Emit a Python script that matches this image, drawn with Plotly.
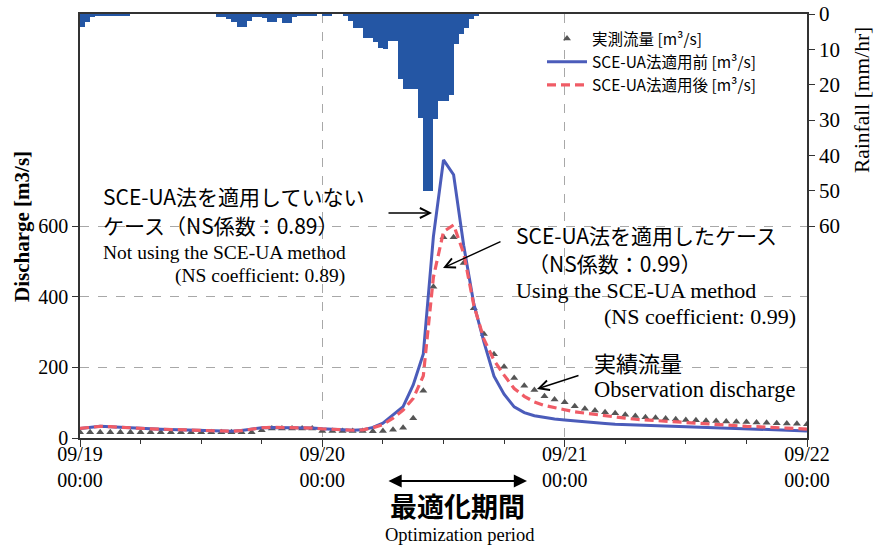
import numpy as np
import pandas as pd
import plotly.graph_objects as go

# ---------------- data ----------------
start = pd.Timestamp("2019-09-19 00:00")
hours = pd.date_range(start, periods=73, freq="h")

# observed discharge [m3/s], hourly 09/19 00:00 .. 09/22 00:00
observed = [16, 16, 16, 16, 16, 16, 16, 16, 16, 16, 16, 16, 16, 16, 16, 16, 16, 16,
            22, 27, 27, 27, 27, 27,
            20, 20, 20, 20, 20,
            19, 20, 23, 29, 56, 134, 428, 568, 568, 495, 367, 294, 237, 202,
            170, 148, 136, 118, 109, 101, 90, 83, 78, 73, 70, 66, 62, 59, 57,
            55, 53, 51, 50, 49, 48, 47, 46, 45, 44, 43, 42, 41, 40, 39]

# model before SCE-UA calibration
before = [27, 31, 33, 32, 30, 29, 27, 26, 25, 24, 23, 22, 21, 20, 19, 19, 21, 25,
          29, 30, 30, 30, 29, 28, 26, 24, 22, 22, 23,
          30, 42, 65, 89, 150, 238, 570, 787, 745, 545, 380, 272, 175, 124,
          88, 72, 63, 58, 54, 51, 48, 45, 43, 41, 39, 38, 36, 35, 34,
          33, 32, 31, 30, 29, 28, 27, 26, 25, 24, 23, 22, 21, 20.5, 20]

# model after SCE-UA calibration
after = [27, 31, 33, 32, 30, 29, 27, 26, 25, 24, 23, 22, 21, 20, 19, 19, 21, 25,
         29, 30, 30, 30, 29, 28, 26, 24, 22, 22, 23,
         29, 38, 56, 79, 112, 176, 455, 584, 603, 523, 376, 280, 220, 178,
         140, 118, 102, 92, 85, 80, 74, 70, 66, 62, 59, 56, 53, 51, 49,
         47, 45, 43, 41, 40, 38, 36, 35, 33, 32, 30, 29, 28, 27, 25]

# rainfall [mm/hr], 30-minute bins from 09/19 00:00 (144 bins)
rainfall = [3.8, 2.4, 0.9, 0.4, 0.4, 0.4, 0.4, 0.4, 0.4, 0.4, 0, 0,
            0, 0, 0, 0, 0, 0, 0, 0, 0, 0, 0, 0,
            0, 0, 0, 0.8, 0.8, 1.5, 2.4, 3.8, 3.8, 2.0, 0.8, 0.8,
            1.2, 2.2, 2.2, 1.1, 2.5, 2.5, 0.8, 0.3, 0.3, 0.3, 0.3, 0,
            0.3, 0.3, 0, 0, 0.5, 2.0, 4.1, 4.1, 6.9, 6.9, 8.0, 9.5,
            10.0, 7.6, 7.6, 18.5, 21.3, 21.3, 21.3, 29.5, 50.0, 50.0, 29.8, 24.7,
            24.7, 22.8, 8.5, 5.8, 3.9, 1.5, 0.6, 0, 0, 0, 0, 0,
            0, 0, 0, 0, 0, 0, 0, 0, 0, 0, 0, 0,
            0, 0, 0, 0, 0, 0, 0, 0, 0, 0, 0, 0,
            0, 0, 0, 0, 0, 0, 0, 0, 0, 0, 0, 0,
            0, 0, 0, 0, 0, 0, 0, 0, 0, 0, 0, 0,
            0, 0, 0, 0, 0, 0, 0, 0, 0, 0, 0, 0]
rain_x = start + pd.to_timedelta(np.arange(len(rainfall)) * 30 + 15, unit="min")

day_ticks = pd.date_range(start, periods=4, freq="D")
day_labels = ["09/19<br>00:00", "09/20<br>00:00", "09/21<br>00:00", "09/22<br>00:00"]
q_ticks = [0, 200, 400, 600]
r_ticks = [0, 10, 20, 30, 40, 50, 60]

# ---------------- styling ----------------
W, H = 877, 547
L, R, T, B = 80, 70, 14, 109
SERIF = "Liberation Serif"
CJK = "Noto Sans CJK JP"
GRID = "#a8a8a8"
AX = "#333333"


def px(x):
    return (x - L) / (W - L - R)


def py(y):
    return (H - B - y) / (H - T - B)


fig = go.Figure()
fig.add_trace(go.Bar(x=rain_x, y=rainfall, yaxis="y2", width=30 * 60 * 1000,
                     marker=dict(color="#2456A4", line=dict(width=0)),
                     showlegend=False))
fig.add_trace(go.Scatter(x=hours, y=observed, mode="markers",
                         name="実測流量 [m³/s]",
                         marker=dict(symbol="triangle-up", size=7, color="#555555")))
fig.add_trace(go.Scatter(x=hours, y=before, mode="lines",
                         name="SCE-UA法適用前 [m³/s]",
                         line=dict(color="#4B5CBA", width=3)))
fig.add_trace(go.Scatter(x=hours, y=after, mode="lines",
                         name="SCE-UA法適用後 [m³/s]",
                         line=dict(color="#F05C66", width=3.2, dash="9px,5px")))

annotations = []


def txt(text, x, y, size, font=CJK, xanchor="left", color="black", angle=0):
    annotations.append(dict(text=text, x=px(x), y=py(y), xref="paper", yref="paper",
                            xanchor=xanchor, yanchor="middle", showarrow=False,
                            textangle=angle,
                            font=dict(family=font, size=size, color=color)))


def arrow(xh, yh, xt, yt, head=5, both=False, width=1.4, size=1.4):
    annotations.append(dict(text="", x=px(xh), y=py(yh), xref="paper", yref="paper",
                            ax=xt - xh, ay=yt - yh, axref="pixel", ayref="pixel",
                            showarrow=True, arrowhead=head, arrowsize=size,
                            arrowwidth=width, arrowcolor="black",
                            arrowside="end+start" if both else "end",
                            startarrowhead=head, startarrowsize=size))


# annotation 1
txt("SCE-UA法を適用していない", 101, 196, 21)
txt("ケース（NS係数：0.89）", 101, 225, 21)
txt("Not using the SCE-UA method", 101, 252, 19.5, font=SERIF)
txt("(NS coefficient: 0.89)", 347, 276, 19.5, font=SERIF, xanchor="right")
arrow(432, 213, 387, 213)
# annotation 2
txt("SCE-UA法を適用したケース", 514, 235, 21)
txt("（NS係数：0.99）", 526, 263, 21)
txt("Using the SCE-UA method", 514, 290, 22, font=SERIF)
txt("(NS coefficient: 0.99)", 798, 317, 22, font=SERIF, xanchor="right")
arrow(443, 268, 502, 241)
# annotation 3
txt("実績流量", 592, 362, 22)
txt("Observation discharge", 592, 389, 22.5, font=SERIF)
arrow(537, 389, 580, 375)
# bottom
arrow(527, 481, 387, 481, head=2, both=True, width=2.2, size=1.2)
txt("<b>最適化期間</b>", 457, 505, 27, xanchor="center")
txt("Optimization period", 460, 535, 18.5, font=SERIF, xanchor="center")
# axis titles
txt("<b>Discharge [m3/s]</b>", 22, 227, 21, font=SERIF, xanchor="center", angle=-90)
txt("Rainfall [mm/hr]", 862, 100, 21.5, font=SERIF, xanchor="center", angle=-90)

fig.update_layout(
    width=W, height=H,
    margin=dict(l=L, r=R, t=T, b=B, pad=0, autoexpand=False),
    paper_bgcolor="white", plot_bgcolor="white",
    barmode="overlay", bargap=0,
    font=dict(family=SERIF, size=20, color="black"),
    annotations=annotations,
    legend=dict(x=px(542), y=py(22), xanchor="left", yanchor="top",
                bgcolor="rgba(0,0,0,0)", borderwidth=0,
                font=dict(family=CJK, size=15.5, color="black"),
                tracegroupgap=0, itemwidth=40),
    xaxis=dict(type="date", range=[day_ticks[0], day_ticks[-1]],
               tickvals=day_ticks, ticktext=day_labels, automargin=False,
               tickfont=dict(family=SERIF, size=20, color="black"),
               ticklabelstandoff=-10,
               ticks="outside", ticklen=7, tickwidth=1.3, tickcolor=AX,
               showline=True, linecolor=AX, linewidth=1.5, mirror=True,
               showgrid=True, gridcolor=GRID, gridwidth=1, griddash="dash",
               zeroline=False,
               minor=dict(dtick=6 * 3600 * 1000, tick0=day_ticks[0], ticks="outside",
                          ticklen=4, tickcolor=AX, showgrid=False)),
    yaxis=dict(range=[0, 1200], tickvals=q_ticks, automargin=False,
               tickfont=dict(family=SERIF, size=20, color="black"),
               ticks="outside", ticklen=6, tickwidth=1.3, tickcolor=AX,
               showline=True, linecolor=AX, linewidth=1.5,
               showgrid=True, gridcolor=GRID, gridwidth=1, griddash="dash",
               zeroline=False),
    yaxis2=dict(overlaying="y", side="right", range=[120, 0], tickvals=r_ticks,
                automargin=False,
                tickfont=dict(family=SERIF, size=21, color="black"),
                ticks="outside", ticklen=6, tickwidth=1.3, tickcolor=AX,
                showline=True, linecolor=AX, linewidth=1.5,
                showgrid=False, zeroline=False),
)

fig.write_html("out.html", config={"displayModeBar": False},
               post_script="document.body.style.margin='0px';")
